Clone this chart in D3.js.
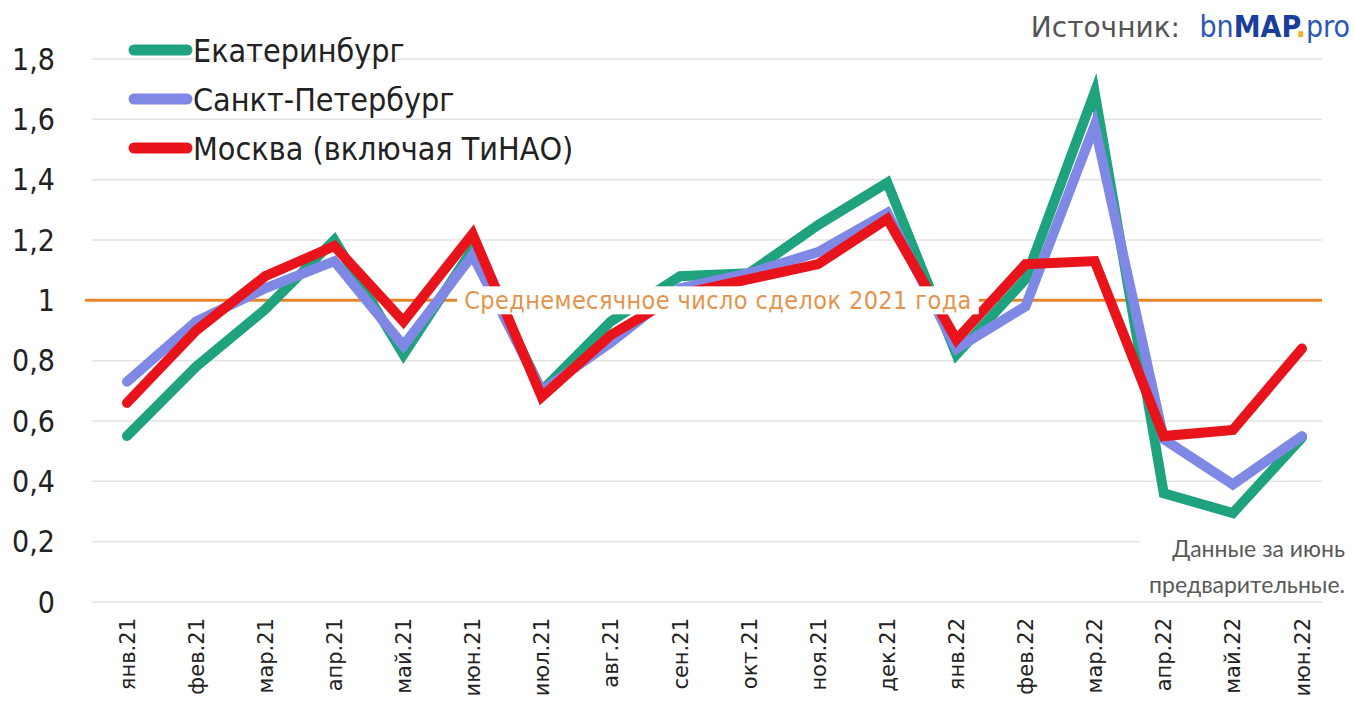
<!DOCTYPE html>
<meta charset="utf-8">
<style>
body { margin: 0; background: #fff; }
.tick-y text { font: 30px "DejaVu Sans Condensed", sans-serif; font-stretch: condensed; fill: #222; }
.tick-x text { font: 21px "DejaVu Sans", sans-serif; fill: #222; }
.grid line { stroke: #e3e3e3; stroke-width: 1.5px; }
.legend text { font: 32px "DejaVu Sans Condensed", sans-serif; font-stretch: condensed; fill: #222; }
.series { fill: none; stroke-width: 10px; stroke-linejoin: miter; stroke-linecap: round; }
.note { font: 23px "Lato", sans-serif; fill: #5a5a5a; }
</style>
<body>
<script src="https://d3js.org/d3.v7.min.js"></script>
<script>

const width = 1355;
const height = 714;

const months = ["янв.21", "фев.21", "мар.21", "апр.21", "май.21", "июн.21", "июл.21", "авг.21", "сен.21",
  "окт.21", "ноя.21", "дек.21", "янв.22", "фев.22", "мар.22", "апр.22", "май.22", "июн.22"];

const ekb = [0.55, 0.78, 0.97, 1.20, 0.82, 1.17, 0.70, 0.93, 1.08, 1.09, 1.25, 1.39, 0.82, 1.07, 1.69, 0.36, 0.295, 0.545];
const spb = [0.73, 0.93, 1.04, 1.13, 0.85, 1.15, 0.70, 0.86, 1.04, 1.09, 1.16, 1.29, 0.84, 0.98, 1.58, 0.54, 0.39, 0.55];
const msk = [0.66, 0.90, 1.08, 1.18, 0.93, 1.22, 0.68, 0.885, 1.02, 1.07, 1.12, 1.27, 0.87, 1.12, 1.13, 0.55, 0.57, 0.84];

const seriesNames = ["Екатеринбург", "Санкт-Петербург", "Москва (включая ТиНАО)"];
const seriesColors = ["#1fa37f", "#8088e6", "#e8131b"];
const yTicks = [0, 0.2, 0.4, 0.6, 0.8, 1, 1.2, 1.4, 1.6, 1.8];
const avgLevel = 1;
const avgLabel = "Среднемесячное число сделок 2021 года";

const svg = d3.select("body").append("svg")
    .attr("width", width)
    .attr("height", height);

const x = d3.scalePoint().domain(months).range([127, 1302]);
const y = d3.scaleLinear().domain([0, 1.8]).range([602, 59]);

// gridlines
svg.append("g").attr("class", "grid")
  .selectAll("line")
  .data(yTicks)
  .enter().append("line")
    .attr("x1", 92).attr("x2", 1322)
    .attr("y1", d => y(d)).attr("y2", d => y(d));

// y labels
const fmt = d => String(d).replace(".", ",");
svg.append("g").attr("class", "tick-y")
  .selectAll("text")
  .data(yTicks)
  .enter().append("text")
    .attr("x", 55)
    .attr("y", d => y(d))
    .attr("dy", "0.36em")
    .attr("text-anchor", "end")
    .text(fmt);

// x labels
svg.append("g").attr("class", "tick-x")
  .selectAll("text")
  .data(months)
  .enter().append("text")
    .attr("transform", d => `translate(${x(d)},618) rotate(-90)`)
    .attr("dy", "0.36em")
    .attr("text-anchor", "end")
    .text(d => d);

// average line
svg.append("line")
    .attr("x1", 85).attr("x2", 1322)
    .attr("y1", y(avgLevel)).attr("y2", y(avgLevel))
    .attr("stroke", "#e8842c")
    .attr("stroke-width", 3);

// lines
const line = d3.line()
    .x((d, i) => x(months[i]))
    .y(d => y(d));

[ekb, spb, msk].forEach((vals, k) => {
  svg.append("path")
      .attr("class", "series")
      .attr("stroke", seriesColors[k])
      .attr("d", line(vals));
});

// avg label with white box
const labelG = svg.append("g");
const labelBox = labelG.append("rect").attr("fill", "#fff");
const labelText = labelG.append("text")
    .attr("x", 718)
    .attr("y", y(avgLevel))
    .attr("dy", "0.36em")
    .attr("text-anchor", "middle")
    .style("font", "25px 'DejaVu Sans Condensed', sans-serif")
    .style("font-stretch", "condensed")
    .style("letter-spacing", "0.4px")
    .attr("fill", "#e3944c")
    .text(avgLabel);
const bb = labelText.node().getBBox();
labelBox.attr("x", bb.x - 7).attr("y", y(avgLevel) - 14)
    .attr("width", bb.width + 14).attr("height", 28);

// legend
const legend = svg.append("g").attr("class", "legend");
seriesNames.forEach((name, k) => {
  const ly = 50 + k * 49;
  legend.append("line")
      .attr("x1", 134).attr("x2", 187)
      .attr("y1", ly).attr("y2", ly)
      .attr("stroke", seriesColors[k])
      .attr("stroke-width", 11)
      .attr("stroke-linecap", "round");
  legend.append("text")
      .attr("x", 193).attr("y", ly)
      .attr("dy", "0.36em")
      .text(name);
});

// source
svg.append("text")
    .attr("x", 1180).attr("y", 37)
    .attr("text-anchor", "end")
    .style("font", "28px 'DejaVu Sans', sans-serif")
    .attr("fill", "#555")
    .text("Источник:");

const logo = svg.append("text")
    .attr("x", 1350).attr("y", 37)
    .attr("text-anchor", "end")
    .style("font", "30px 'DejaVu Sans Condensed', sans-serif")
    .style("font-stretch", "condensed");
logo.append("tspan").attr("fill", "#2b57b8").text("bn");
logo.append("tspan").attr("fill", "#1a3e9c").attr("font-weight", "bold").text("MAP");
logo.append("tspan").attr("fill", "#f0b030").attr("font-weight", "bold").text(".");
logo.append("tspan").attr("fill", "#2b57b8").text("pro");

// note
svg.append("rect").attr("x", 1140).attr("y", 528).attr("width", 215).attr("height", 70).attr("fill", "#fff");
svg.append("text").attr("class", "note")
    .attr("x", 1345).attr("y", 557).attr("text-anchor", "end")
    .text("Данные за июнь");
svg.append("text").attr("class", "note")
    .attr("x", 1345).attr("y", 593).attr("text-anchor", "end")
    .text("предварительные.");

</script>
</body>
